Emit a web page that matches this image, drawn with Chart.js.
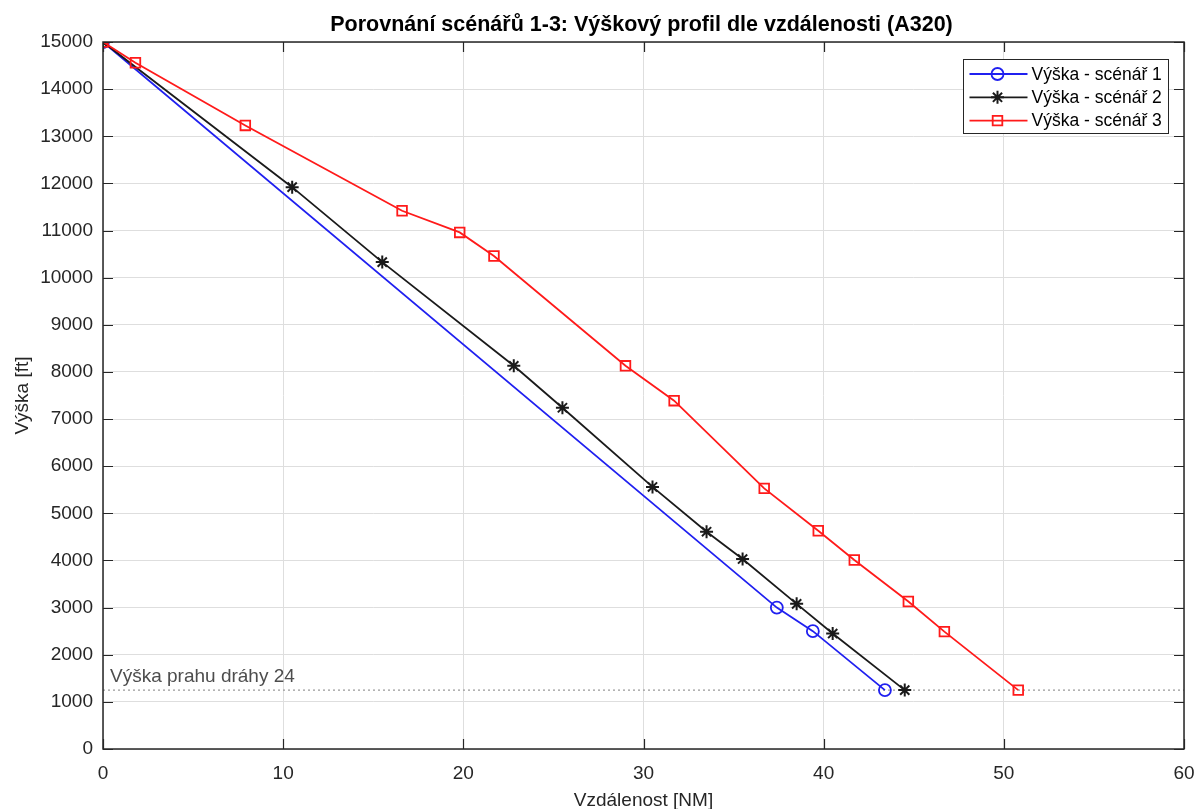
<!DOCTYPE html>
<html>
<head>
<meta charset="utf-8">
<title>Porovnání scénářů 1-3</title>
<script src="https://cdn.jsdelivr.net/npm/chart.js@4.4.1/dist/chart.umd.min.js"></script>
<style>
  html, body { margin: 0; padding: 0; background: #fff; }
  #wrap { width: 1198px; height: 809px; }
</style>
</head>
<body>
<div id="wrap"><canvas id="profile"></canvas></div>
<script>
// Scenario 1 - blue circles
const distance1 = [0, 37.4, 39.4, 43.4];
const altitude1 = [15000, 3000, 2500, 1250];

// Scenario 2 - black asterisks
const distance2 = [0, 10.5, 15.5, 22.8, 25.5, 30.5, 33.5, 35.5, 38.5, 40.5, 44.5];
const altitude2 = [15000, 11920, 10330, 8130, 7240, 5560, 4610, 4030, 3080, 2450, 1250];

// Scenario 3 - red squares
const distance3 = [0, 1.8, 7.9, 16.6, 19.8, 21.7, 29.0, 31.7, 36.7, 39.7, 41.7, 44.7, 46.7, 50.8];
const altitude3 = [15000, 14560, 13230, 11420, 10960, 10460, 8130, 7390, 5530, 4630, 4010, 3130, 2490, 1250];

const seriesLabels = ['Výška - scénář 1', 'Výška - scénář 2', 'Výška - scénář 3'];

// runway 24 threshold altitude
const thresholdAltitude = 1250;
const thresholdLabel = 'Výška prahu dráhy 24';

const xTicks = [0, 10, 20, 30, 40, 50, 60];
const yTicks = [0, 1000, 2000, 3000, 4000, 5000, 6000, 7000, 8000, 9000, 10000, 11000, 12000, 13000, 14000, 15000];

const FONT = '"Liberation Sans", Arial, Helvetica, sans-serif';
const INK = '#262626';

function toPoints(xs, ys) {
  return xs.map((x, i) => ({ x: x, y: ys[i] }));
}

function drawMarker(ctx, style, x, y, r, color, width) {
  ctx.save();
  ctx.strokeStyle = color;
  ctx.lineWidth = width;
  ctx.beginPath();
  if (style === 'circle') {
    ctx.arc(x, y, r, 0, Math.PI * 2);
  } else if (style === 'rect') {
    const s = r * Math.SQRT1_2;
    ctx.rect(x - s, y - s, 2 * s, 2 * s);
  } else if (style === 'star') {
    ctx.moveTo(x - r, y); ctx.lineTo(x + r, y);
    ctx.moveTo(x, y - r); ctx.lineTo(x, y + r);
    const d = r * Math.SQRT1_2;
    ctx.moveTo(x - d, y - d); ctx.lineTo(x + d, y + d);
    ctx.moveTo(x - d, y + d); ctx.lineTo(x + d, y - d);
  }
  ctx.stroke();
  ctx.restore();
}

// box, inward ticks, title, threshold label and legend
const decorations = {
  id: 'decorations',
  afterDatasetsDraw(chart) {
    const { ctx, chartArea: a, scales } = chart;
    const xs = scales.x, ys = scales.y;
    ctx.save();

    // threshold label above the dotted line
    ctx.fillStyle = '#4d4d4d';
    ctx.font = '19px ' + FONT;
    ctx.textAlign = 'left';
    ctx.textBaseline = 'bottom';
    ctx.fillText(thresholdLabel, a.left + 7, ys.getPixelForValue(thresholdAltitude) - 4);

    // axes box
    ctx.strokeStyle = INK;
    ctx.lineWidth = 1.5;
    ctx.strokeRect(a.left, a.top, a.right - a.left, a.bottom - a.top);

    // inward ticks on all four sides
    const tl = 10;
    ctx.lineWidth = 1.2;
    ctx.beginPath();
    xTicks.forEach(v => {
      const px = Math.round(xs.getPixelForValue(v)) + 0.5;
      ctx.moveTo(px, a.bottom); ctx.lineTo(px, a.bottom - tl);
      ctx.moveTo(px, a.top); ctx.lineTo(px, a.top + tl);
    });
    yTicks.forEach(v => {
      const py = Math.round(ys.getPixelForValue(v)) + 0.5;
      ctx.moveTo(a.left, py); ctx.lineTo(a.left + tl, py);
      ctx.moveTo(a.right, py); ctx.lineTo(a.right - tl, py);
    });
    ctx.stroke();

    // title
    ctx.fillStyle = '#000';
    ctx.font = 'bold 21.5px ' + FONT;
    ctx.textAlign = 'center';
    ctx.textBaseline = 'middle';
    ctx.fillText('Porovnání scénářů 1-3: Výškový profil dle vzdálenosti (A320)', (a.left + a.right) / 2 - 2, 25);

    // legend
    const lx = 963.5, ly = 59.5, lw = 205, lh = 74;
    ctx.fillStyle = '#fff';
    ctx.fillRect(lx, ly, lw, lh);
    ctx.strokeStyle = INK;
    ctx.lineWidth = 1;
    ctx.strokeRect(lx, ly, lw, lh);
    ctx.font = '17.5px ' + FONT;
    ctx.textAlign = 'left';
    ctx.textBaseline = 'middle';
    chart.data.datasets.slice(0, 3).forEach((ds, i) => {
      const y = ly + 14.5 + i * 23.3;
      ctx.strokeStyle = ds.borderColor;
      ctx.lineWidth = ds.borderWidth;
      ctx.beginPath();
      ctx.moveTo(lx + 6, y); ctx.lineTo(lx + 64, y);
      ctx.stroke();
      drawMarker(ctx, ds.pointStyle, lx + 34, y, ds.pointRadius, ds.borderColor, ds.pointBorderWidth);
      ctx.fillStyle = '#000';
      ctx.fillText(ds.label, lx + 68, y + 1);
    });

    ctx.restore();
  }
};

const ctx = document.getElementById('profile').getContext('2d');

new Chart(ctx, {
  type: 'scatter',
  data: {
    datasets: [
      {
        label: seriesLabels[0],
        data: toPoints(distance1, altitude1),
        showLine: true,
        borderColor: '#2020f0',
        backgroundColor: 'rgba(0,0,0,0)',
        borderWidth: 1.8,
        pointStyle: 'circle',
        pointRadius: 6,
        pointBorderWidth: 1.8,
        order: 3
      },
      {
        label: seriesLabels[1],
        data: toPoints(distance2, altitude2),
        showLine: true,
        borderColor: '#1a1a1a',
        backgroundColor: 'rgba(0,0,0,0)',
        borderWidth: 1.8,
        pointStyle: 'star',
        pointRadius: 6.5,
        pointBorderWidth: 2,
        order: 2
      },
      {
        label: seriesLabels[2],
        data: toPoints(distance3, altitude3),
        showLine: true,
        borderColor: '#ff1a1a',
        backgroundColor: 'rgba(0,0,0,0)',
        borderWidth: 1.8,
        pointStyle: 'rect',
        pointRadius: 6.8,
        pointBorderWidth: 1.8,
        order: 1
      },
      {
        label: thresholdLabel,
        data: [{ x: xTicks[0], y: thresholdAltitude }, { x: xTicks[xTicks.length - 1], y: thresholdAltitude }],
        showLine: true,
        borderColor: '#9a9a9a',
        borderWidth: 1.2,
        borderDash: [2, 3],
        pointRadius: 0,
        order: 4
      }
    ]
  },
  options: {
    responsive: true,
    maintainAspectRatio: false,
    animation: false,
    events: [],
    layout: { padding: { top: 42, right: 14, left: 0, bottom: 0 } },
    plugins: {
      legend: { display: false },
      title: { display: false },
      tooltip: { enabled: false }
    },
    scales: {
      x: {
        type: 'linear',
        min: 0,
        max: 60,
        afterBuildTicks: s => { s.ticks = xTicks.map(v => ({ value: v })); },
        afterFit: s => { s.height = 60; s.paddingLeft = 0; s.paddingRight = 0; },
        grid: { color: '#dedede', lineWidth: 1, drawTicks: false },
        border: { display: false },
        ticks: { color: INK, padding: 13, font: { family: FONT, size: 19 }, callback: v => String(v) },
        title: {
          display: true,
          text: 'Vzdálenost [NM]',
          color: INK,
          padding: 0,
          font: { family: FONT, size: 19, lineHeight: 0.9 }
        }
      },
      y: {
        type: 'linear',
        min: 0,
        max: 15000,
        afterBuildTicks: s => { s.ticks = yTicks.map(v => ({ value: v })); },
        afterFit: s => { s.width = 103; s.paddingTop = 0; s.paddingBottom = 0; },
        grid: { color: '#dedede', lineWidth: 1, drawTicks: false },
        border: { display: false },
        ticks: { color: INK, padding: 10, font: { family: FONT, size: 19 }, callback: v => String(v) },
        title: {
          display: true,
          text: 'Výška [ft]',
          color: INK,
          padding: { top: 13, bottom: 0 },
          font: { family: FONT, size: 19, lineHeight: 1 }
        }
      }
    }
  },
  plugins: [decorations]
});
</script>
</body>
</html>
